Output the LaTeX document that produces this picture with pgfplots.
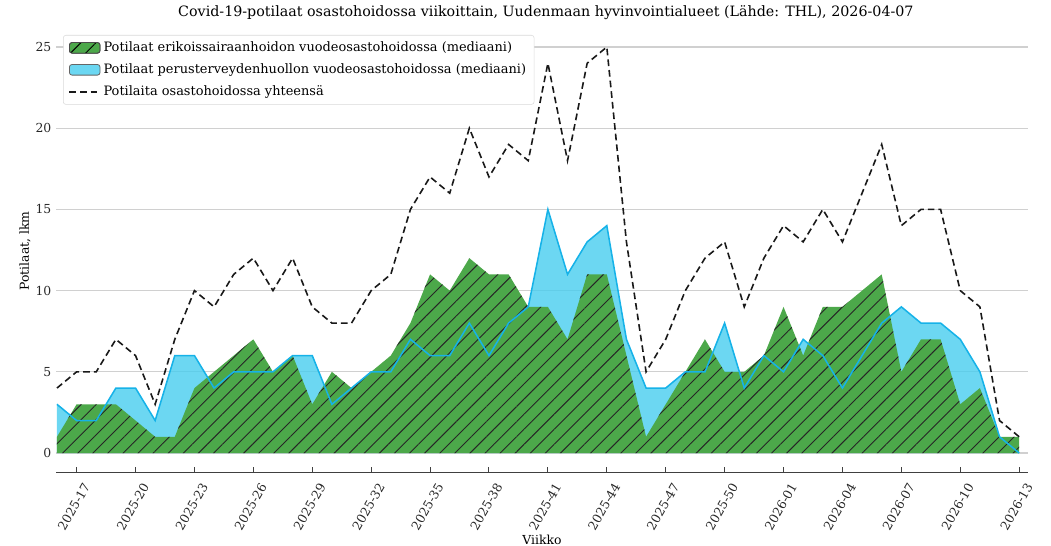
\documentclass[border=0pt]{standalone}
\usepackage{fontspec}
\setmainfont{DejaVu Serif}
\usepackage{pgfplots}
\pgfplotsset{compat=1.18}
\usepackage{pgfplotstable}
\usetikzlibrary{patterns.meta}
\definecolor{mygreen}{RGB}{76,168,74}
\definecolor{cyanfill}{RGB}{71,205,239}
\definecolor{cyanline}{RGB}{22,178,232}
\definecolor{gridgray}{RGB}{208,208,208}

\pgfplotstableread{
i g b t
0 1 3 4
1 3 2 5
2 3 2 5
3 3 4 7
4 2 4 6
5 1 2 3
6 1 6 7
7 4 6 10
8 5 4 9
9 6 5 11
10 7 5 12
11 5 5 10
12 6 6 12
13 3 6 9
14 5 3 8
15 4 4 8
16 5 5 10
17 6 5 11
18 8 7 15
19 11 6 17
20 10 6 16
21 12 8 20
22 11 6 17
23 11 8 19
24 9 9 18
25 9 15 24
26 7 11 18
27 11 13 24
28 11 14 25
29 6 7 13
30 1 4 5
31 3 4 7
32 5 5 10
33 7 5 12
34 5 8 13
35 5 4 9
36 6 6 12
37 9 5 14
38 6 7 13
39 9 6 15
40 9 4 13
41 10 6 16
42 11 8 19
43 5 9 14
44 7 8 15
45 7 8 15
46 3 7 10
47 4 5 9
48 1 1 2
49 1 0 1
}\data

\begin{document}
\begin{tikzpicture}
\path[use as bounding box] (0,0) rectangle (788.25pt,409.5pt);
\begin{axis}[
  at={(42pt,54.75pt)}, anchor=south west,
  scale only axis, width=729pt, height=328.5pt,
  xmin=-0.05, xmax=49.45, ymin=-1.23, ymax=25.74,
  axis x line*=bottom, axis y line*=left,
  x axis line style={-, draw=black!75, line width=0.75pt},
  y axis line style={draw=none},
  ytick={0,5,10,15,20,25},
  ymajorgrids, grid style={gridgray, line width=0.9pt},
  ytick style={draw=none},
  xtick={1,4,...,49},
  xticklabels={2025-17,2025-20,2025-23,2025-26,2025-29,2025-32,2025-35,2025-38,2025-41,2025-44,2025-47,2025-50,2026-01,2026-04,2026-07,2026-10,2026-13},
  xtick align=inside, major tick length=4.5pt,
  xtick style={draw=black!75, line width=0.75pt},
  /pgf/number format/assume math mode=true,
  ticklabel style={font=\fontsize{9.3}{11}\selectfont, text=black!85},
  xticklabel style={xshift=7.7pt, yshift=-8.25pt, rotate=60, anchor=east, inner sep=0pt},
  yticklabel style={/pgf/number format/1000 sep={}},
  xlabel={Viikko}, ylabel={Potilaat, lkm},
  label style={font=\fontsize{9.3}{11}\selectfont},
  xlabel style={at={(axis description cs:0.5,-0.153)}, anchor=center},
  ylabel style={at={(axis description cs:-0.032,0.507)}, anchor=center},
  title={Covid-19-potilaat osastohoidossa viikoittain, Uudenmaan hyvinvointialueet (Lähde: THL), 2026-04-07},
  title style={at={(axis description cs:0.504,1.05)}, anchor=center, yshift=-6pt, font=\fontsize{10.7}{13}\selectfont},
  legend cell align=left,
  legend style={at={(0.0072,1)}, anchor=north west, draw=black!15, fill=white, rounded corners=2pt,
    font=\fontsize{9.7}{11}\selectfont, row sep=3.6pt, inner xsep=4pt, inner ysep=3pt},
]
\addplot[forget plot, draw=none, fill=cyanfill, fill opacity=0.8] table[x=i,y=b]{\data} \closedcycle;
\addplot[forget plot, draw=none, fill=mygreen, postaction={pattern={Lines[angle=45,distance=8pt,line width=0.7pt]}, pattern color=black!85}] table[x=i,y=g]{\data} \closedcycle;
\addplot[forget plot, color=cyanline, line width=1.15pt] table[x=i,y=b]{\data};
\addplot[forget plot, black!90, line width=1.2pt, dash pattern=on 5pt off 3pt] table[x=i,y=t]{\data};

\addlegendimage{legend image code/.code={\draw[fill=mygreen,draw=black!70,line width=0.6pt,postaction={pattern={Lines[angle=45,distance=8pt,line width=0.7pt]},pattern color=black}] (0pt,-4pt) rectangle (23pt,4pt);}}
\addlegendentry{Potilaat erikoissairaanhoidon vuodeosastohoidossa (mediaani)}
\addlegendimage{legend image code/.code={\draw[fill=cyanfill,fill opacity=0.8,draw=black!60,line width=0.6pt] (0pt,-4pt) rectangle (23pt,4pt);}}
\addlegendentry{Potilaat perusterveydenhuollon vuodeosastohoidossa (mediaani)}
\addlegendimage{legend image code/.code={\draw[black!90,line width=1.2pt,dash pattern=on 5pt off 3pt] (0pt,0pt) -- (23pt,0pt);}}
\addlegendentry{Potilaita osastohoidossa yhteensä}
\end{axis}
\end{tikzpicture}
\end{document}
